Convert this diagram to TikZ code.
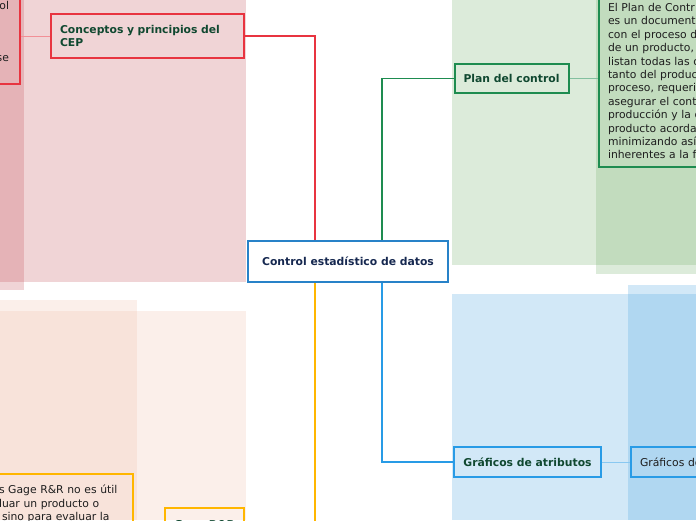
\documentclass[tikz,border=0pt]{standalone}
\usepackage{fontspec}
\setmainfont{DejaVu Sans}
\usetikzlibrary{positioning}
\definecolor{cepred}{RGB}{232,52,64}
\definecolor{plangreen}{RGB}{30,140,80}
\definecolor{attrblue}{RGB}{40,155,230}
\definecolor{rootblue}{RGB}{40,130,200}
\definecolor{gageamber}{RGB}{255,182,0}
\definecolor{pinkwash}{RGB}{195,83,91}
\definecolor{greenwash}{RGB}{115,175,107}
\definecolor{bluewash}{RGB}{75,163,223}
\definecolor{peachwash}{RGB}{239,191,171}
\definecolor{leafink}{RGB}{16,72,48}
\definecolor{rootink}{RGB}{22,40,80}
\definecolor{noteink}{RGB}{30,30,30}
\tikzset{
  panel/.style={fill=#1,fill opacity=0.25},
  root/.style={draw=rootblue,line width=2pt,fill=white,minimum width=200pt,
    minimum height=41pt,font=\fontsize{10.8}{13.4}\selectfont\bfseries,text=rootink},
  topic/.style={draw=#1,line width=2pt,inner xsep=9pt,
    font=\fontsize{10.8}{13.4}\selectfont\bfseries,text=leafink},
  note/.style={draw=#1,line width=2pt,inner xsep=9pt,align=left,
    font=\fontsize{10.8}{13.4}\selectfont,text=noteink},
  branch/.style={line width=1.3pt,draw=#1},
  twig/.style={line width=1pt,draw=#1!55},
}
\begin{document}
\begin{tikzpicture}[x=1pt,y=-1pt]
  \useasboundingbox (0,0) rectangle (696,520);
  \clip (0,0) rectangle (696,520);
  % washes behind the branches
  \fill[panel=pinkwash] (0,0) rectangle (246,282);
  \fill[panel=pinkwash] (0,0) rectangle (24,290);
  \fill[panel=greenwash] (452,0) rectangle (696,265);
  \fill[panel=greenwash] (596,0) rectangle (696,274);
  \fill[panel=bluewash] (452,294) rectangle (696,520);
  \fill[panel=bluewash] (628,285) rectangle (696,520);
  \fill[panel=peachwash] (0,311) rectangle (246,520);
  \fill[panel=peachwash] (0,300) rectangle (137,520);

  \node[root] (datos) at (348,261.5) {Control estadístico de datos};

  \node[topic=cepred,anchor=north west,minimum height=44pt,text width=175pt,align=left]
    (cep) at (50,13) {Conceptos y principios del\\CEP};
  \node[note=cepred,anchor=south east,minimum height=105pt,align=right,inner xsep=11pt]
    (cepnote) at (21,85) {ol\\[39pt]se};

  \node[topic=plangreen,minimum height=29pt] (plan) at (511.5,78.5) {Plan del control};
  \node[note=plangreen,anchor=south west,text width=150pt,inner ysep=8pt] (plannote) at (598,168)
    {El Plan de Contr\\es un document\\con el proceso d\\de un producto,\\listan todas las c\\tanto del produc\\proceso, requeri\\asegurar el cont\\producción y la c\\producto acorda\\minimizando así\\inherentes a la f};

  \node[topic=attrblue,minimum height=30pt] (attr) at (527.5,462) {Gráficos de atributos};
  \node[note=attrblue,anchor=west,minimum height=30pt,text width=110pt] (attrnote) at (630,462) {Gráficos de};

  \node[topic=gageamber,anchor=north west,minimum height=36pt] (gage) at (164,507) {Gage R\&R};
  \node[note=gageamber,anchor=north east,text width=125pt,inner ysep=11pt] (gagenote) at (134,473)
    {s Gage R\&R no es útil\\luar un producto o\\\hspace*{3pt}sino para evaluar la};

  \draw[branch=cepred] ([xshift=-33pt]datos.north) |- (cep.east);
  \draw[branch=plangreen] ([xshift=34pt]datos.north) |- (plan.west);
  \draw[branch=attrblue] ([xshift=34pt]datos.south) |- (attr.west);
  \draw[branch=gageamber] ([xshift=-33pt]datos.south) |- (gage.east);
  \draw[twig=cepred] (cep.west) -- (cep.west -| cepnote.east);
  \draw[twig=plangreen] (plan.east) -- (plan.east -| plannote.west);
  \draw[twig=attrblue] (attr.east) -- (attrnote.west);
\end{tikzpicture}
\end{document}
